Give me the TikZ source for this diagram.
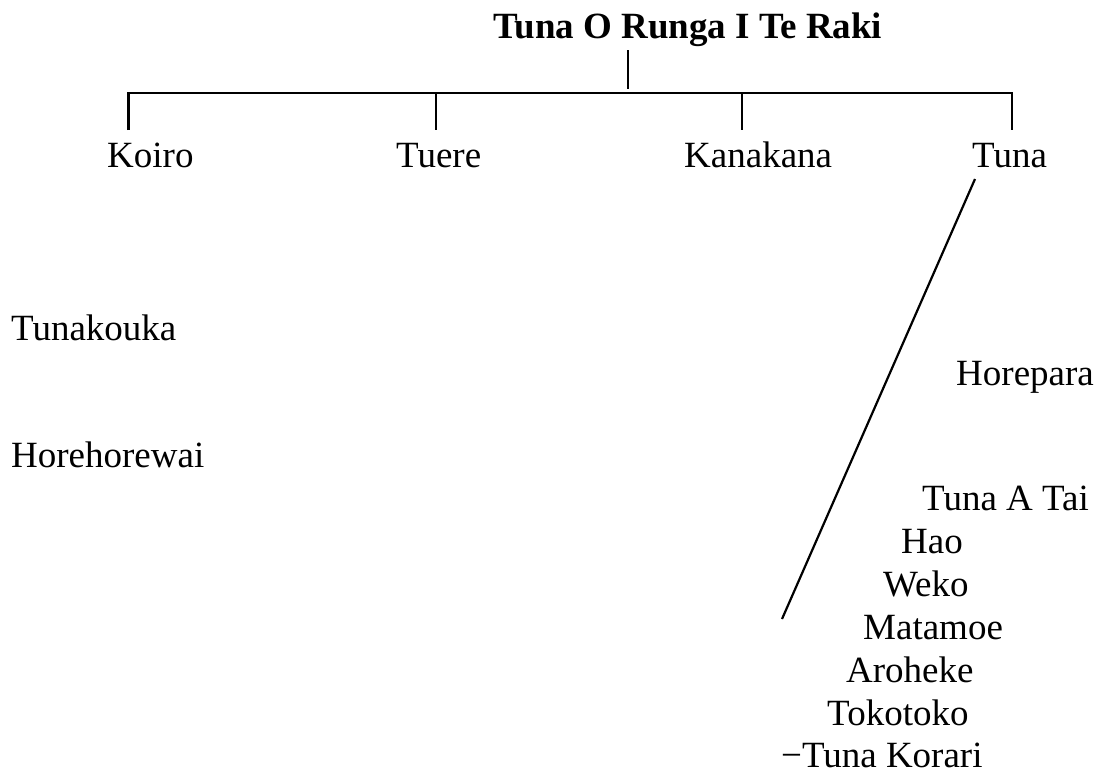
\documentclass[tikz,border=0pt]{standalone}
\usepackage{fontspec}
\setmainfont{Liberation Serif}
\usetikzlibrary{calc}
\tikzset{
  lbl/.style={anchor=base west, inner sep=0pt, font=\fontsize{37}{44}\selectfont},
  ttl/.style={lbl, font=\fontsize{37}{44}\selectfont\bfseries},
  link/.style={draw=black, line width=2.5pt, line join=miter},
  slant/.style={draw=black, line width=2.2pt}
}
\begin{document}
\begin{tikzpicture}[x=1pt,y=-1pt]
\useasboundingbox (0,0) rectangle (1102,771);
% nodes
\node[ttl] (root) at (493,38) {Tuna O Runga I Te Raki};
\node[lbl] (koiro) at (107,167) {Koiro};
\node[lbl] (tuere) at (396,167) {Tuere};
\node[lbl] (kanakana) at (684,167) {Kanakana};
\node[lbl] (tuna) at (972,167) {Tuna};
\node[lbl] (tunakouka) at (11,340) {Tunakouka};
\node[lbl] (horehorewai) at (11,467) {Horehorewai};
\node[lbl] (horepara) at (956,385) {Horepara};
\node[lbl] (tunaatai) at (922,510) {Tuna A Tai};
\node[lbl] (hao) at (901,553) {Hao};
\node[lbl] (weko) at (883,596) {Weko};
\node[lbl] (matamoe) at (863,639) {Matamoe};
\node[lbl] (aroheke) at (846,682) {Aroheke};
\node[lbl] (tokotoko) at (827,725) {Tokotoko};
\node[lbl] (tunakorari) at (781,767) {−Tuna Korari};
% bracket coordinates
\coordinate (rt) at ($(root.base west)+(135,12)$);
\coordinate (rb) at (628,89);
\coordinate (b1) at (128.5,93);
\coordinate (b2) at (436,93);
\coordinate (b3) at (742,93);
\coordinate (b4) at (1012,93);
\coordinate (c1) at (128.5,130);
\coordinate (c2) at (436,130);
\coordinate (c3) at (742,130);
\coordinate (c4) at (1012,130);
\coordinate (dend) at (782,619);
% connectors
\draw[link] (rt) -- (rb);
\draw[link] (c1) -- (b1) -- (b4) -- (c4);
\draw[link] (b2) -- (c2);
\draw[link] (b3) -- (c3);
\draw[slant] ($(tuna.base west)+(3,12)$) -- (dend);
\end{tikzpicture}
\end{document}
